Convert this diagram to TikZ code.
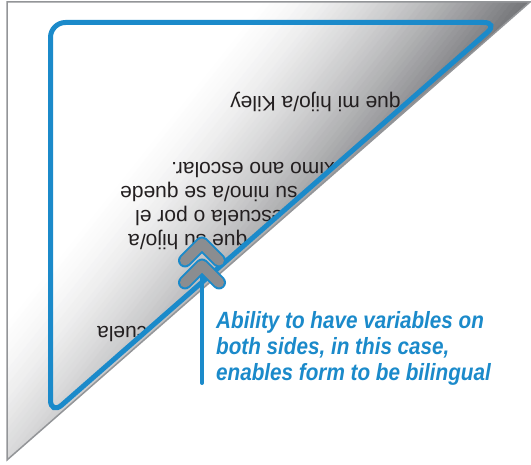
\documentclass[tikz,border=0pt]{standalone}
\usepackage{fontspec}
\setmainfont{Liberation Sans}
\newfontfamily\notefont[FakeStretch=0.88]{Liberation Sans}
\usepackage{tikz}
\definecolor{capblue}{RGB}{27,138,202}
\definecolor{foldgray}{RGB}{119,120,123}
\definecolor{edgegray}{RGB}{147,149,152}
\definecolor{arrowgray}{RGB}{139,141,144}
\definecolor{ink}{RGB}{35,31,32}

\begin{document}
\begin{tikzpicture}[x=1pt, y=-1pt,
    backtext/.style={rotate=180, anchor=base east, inner sep=0pt, text=ink,
      font=\fontsize{21}{21}\selectfont},
    notetext/.style={anchor=base west, inner sep=0pt, text=capblue,
      font=\notefont\bfseries\itshape\fontsize{23.5}{25.7}\selectfont},
    chevout/.style={draw=capblue, line width=14pt, line cap=round, line join=round},
    chevin/.style={draw=arrowgray, line width=10pt, line cap=round, line join=round}]
    \useasboundingbox (0,0) rectangle (531,465);
    \coordinate (A) at (7,2);
    \coordinate (B) at (530,2);
    \coordinate (C) at (7,460);
    \coordinate (S) at (270,22.5);
    \coordinate (P) at (50.5,22.5);
    \coordinate (Q) at (498.6,22.5);
    \coordinate (R) at (50.5,414.9);
    \coordinate (tip) at (202,277);
    \coordinate (foot) at (202,383);
    \begin{scope}
        \clip (A) -- (B) -- (C) -- cycle;
        \fill[white] (A) -- (B) -- (C) -- cycle;
        \foreach \i in {0,...,44} {
            \pgfmathsetmacro\c{255+6*\i}
            \pgfmathtruncatemacro\p{100*((6*\i+3)/270)^1.5}
            \fill[foldgray!\p!white] ({\c+8},-10) -- ({\c+14.5},-10) -- ({\c+6.5-384},480) -- ({\c-384},480) -- cycle;
        }
        \fill[foldgray] (533,-10) -- (900,-10) -- (900,480) -- (141,480) -- cycle;
        \clip (P) -- (Q) -- (R) -- cycle;
        \node[backtext] (kiley) at (230,97) {que mi hijo/a Kiley};
        \node[backtext] (escolar) at (171,163) {ximo ano escolar.};
        \node[backtext] (quede) at (120,187) {su nino/a se quede};
        \node[backtext] (porel) at (135,211) {escuela o por el};
        \node[backtext] (hijo) at (128,235) {que su hijo/a};
        \node[backtext] (escuela) at (97,327) {escuela};
    \end{scope}
    \draw[edgegray, line width=1.5pt] (A) -- (B) -- (C) -- cycle;
    \draw[capblue, line width=5pt, rounded corners=15pt] (S) -- (Q) -- (R) -- (P) -- cycle;
    \draw[capblue, line width=4pt, line cap=round] (tip) -- (foot);
    \foreach \dy in {-22,0} {
        \draw[chevout] (185,282.5+\dy) -- (202,265.5+\dy) -- (219,282.5+\dy);
        \draw[chevin] (185,282.5+\dy) -- (202,265.5+\dy) -- (219,282.5+\dy);
    }
    \node[notetext] (note1) at (216,329) {Ability to have variables on};
    \node[notetext] (note2) at (216,355) {both sides, in this case,};
    \node[notetext] (note3) at (216,380.5) {enables form to be bilingual};
\end{tikzpicture}
\end{document}
